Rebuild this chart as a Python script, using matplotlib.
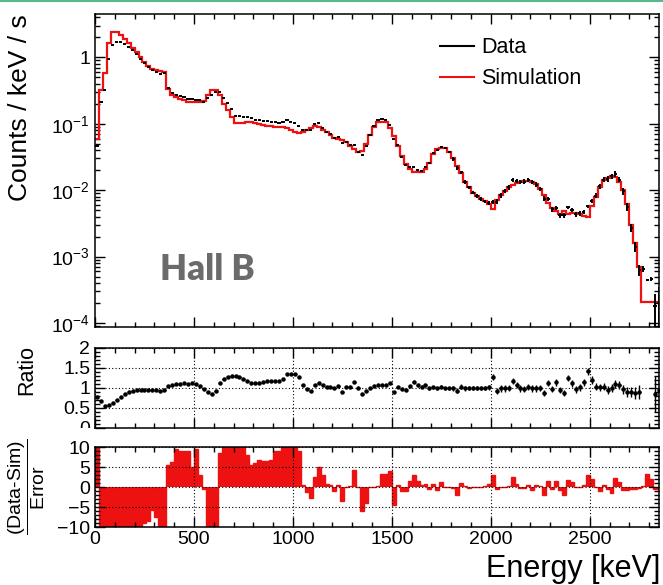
import numpy as np
import matplotlib
matplotlib.use("Agg")
import matplotlib.pyplot as plt
from matplotlib.ticker import MultipleLocator, LogLocator, FuncFormatter, NullFormatter
from matplotlib.lines import Line2D
from matplotlib.patches import Rectangle

plt.rcParams['font.family'] = ['Liberation Sans', 'DejaVu Sans']
plt.rcParams['mathtext.fontset'] = 'custom'
plt.rcParams['mathtext.rm'] = 'Liberation Sans'
plt.rcParams['mathtext.it'] = 'Liberation Sans:italic'
plt.rcParams['mathtext.bf'] = 'Liberation Sans:bold'

# 20 keV bins from 0 to 2860 keV
bin_width = 20
energy_max = 2850

# simulated rate per bin (counts / keV / s)
sim_rate = [
    0.06, 0.32, 0.58, 1.65, 2.45, 2.4, 2.2, 1.9, 1.62, 1.4,
    1.2, 1.0, 0.86, 0.75, 0.67, 0.64, 0.62, 0.6, 0.33, 0.27,
    0.25, 0.235, 0.225, 0.215, 0.21, 0.21, 0.215, 0.22, 0.27, 0.32,
    0.32, 0.27, 0.2, 0.16, 0.128, 0.102, 0.102, 0.104, 0.107, 0.107,
    0.103, 0.1, 0.096, 0.093, 0.092, 0.09, 0.088, 0.088, 0.086, 0.08,
    0.076, 0.072, 0.076, 0.082, 0.087, 0.093, 0.09, 0.082, 0.074, 0.068,
    0.062, 0.06, 0.057, 0.053, 0.047, 0.042, 0.038, 0.039, 0.05, 0.068,
    0.09, 0.105, 0.108, 0.105, 0.085, 0.065, 0.047, 0.033, 0.025, 0.021,
    0.019, 0.019, 0.019, 0.021, 0.026, 0.035, 0.041, 0.043, 0.043, 0.038,
    0.03, 0.023, 0.018, 0.0135, 0.011, 0.0092, 0.0082, 0.0074, 0.0068, 0.0063,
    0.0052, 0.0072, 0.0085, 0.0098, 0.011, 0.012, 0.0128, 0.0135, 0.0138, 0.0138,
    0.0135, 0.0122, 0.0105, 0.0085, 0.0065, 0.0053, 0.0048, 0.0044, 0.0048, 0.0044,
    0.0045, 0.0045, 0.0044, 0.0041, 0.004, 0.0058, 0.008, 0.0112, 0.014, 0.0155,
    0.0163, 0.016, 0.0135, 0.01, 0.0063, 0.003, 0.0016, 0.0007, 0.00021, 0.00021,
    0.00021, 0.00021, 0.00021,
]

# data / simulation per bin
ratio = [
    0.78, 0.67, 0.55, 0.57, 0.63, 0.70, 0.78, 0.85, 0.90, 0.93,
    0.94, 0.95, 0.95, 0.95, 0.96, 0.95, 0.92, 0.96, 1.05, 1.08,
    1.10, 1.10, 1.12, 1.10, 1.12, 1.10, 1.05, 0.98, 0.91, 0.85,
    0.93, 1.12, 1.22, 1.27, 1.30, 1.30, 1.27, 1.22, 1.17, 1.13,
    1.12, 1.13, 1.16, 1.18, 1.17, 1.17, 1.18, 1.22, 1.34, 1.34,
    1.34, 1.27, 1.07, 0.97, 0.93, 1.07, 1.13, 1.07, 1.03, 1.02,
    0.99, 1.04, 0.90, 1.02, 1.02, 1.14, 0.99, 0.86, 0.92, 0.99,
    1.04, 1.07, 1.08, 1.08, 1.12, 0.90, 1.02, 0.97, 0.96, 1.05,
    1.16, 1.07, 1.03, 1.07, 0.99, 1.02, 0.99, 1.03, 0.99, 0.99,
    0.99, 0.93, 1.03, 0.99, 1.00, 1.00, 1.00, 1.00, 1.00, 1.02,
    1.27, 0.93, 0.99, 0.99, 1.00, 1.18, 1.07, 0.99, 0.97, 1.03,
    0.99, 0.99, 1.00, 0.88, 1.12, 0.97, 1.14, 0.95, 0.87, 1.25,
    1.12, 0.97, 1.02, 1.14, 1.42, 1.20, 1.03, 1.02, 1.03, 0.95,
    0.99, 1.10, 1.07, 0.97, 0.90, 0.90, 0.88, 0.90, 3.10, 2.10,
    2.20, 0.85, 0.95,
]

# uncertainty on the ratio
ratio_err = [
    0.008, 0.008, 0.008, 0.008, 0.008, 0.008, 0.008, 0.008, 0.008, 0.008,
    0.008, 0.008, 0.008, 0.008, 0.008, 0.008, 0.008, 0.008, 0.008, 0.008,
    0.008, 0.008, 0.008, 0.008, 0.008, 0.008, 0.008, 0.008, 0.008, 0.008,
    0.008, 0.008, 0.008, 0.008, 0.008, 0.008, 0.008, 0.008, 0.008, 0.008,
    0.015, 0.015, 0.015, 0.015, 0.015, 0.015, 0.015, 0.015, 0.015, 0.015,
    0.015, 0.015, 0.015, 0.015, 0.015, 0.015, 0.015, 0.015, 0.015, 0.015,
    0.025, 0.025, 0.025, 0.025, 0.025, 0.025, 0.025, 0.025, 0.025, 0.025,
    0.025, 0.025, 0.025, 0.025, 0.025, 0.025, 0.025, 0.025, 0.025, 0.025,
    0.035, 0.035, 0.035, 0.035, 0.035, 0.035, 0.035, 0.035, 0.035, 0.035,
    0.06, 0.06, 0.06, 0.06, 0.06, 0.06, 0.06, 0.06, 0.06, 0.06,
    0.08, 0.08, 0.08, 0.08, 0.08, 0.08, 0.08, 0.08, 0.08, 0.08,
    0.08, 0.08, 0.08, 0.08, 0.08, 0.08, 0.08, 0.08, 0.08, 0.08,
    0.09, 0.09, 0.09, 0.09, 0.09, 0.09, 0.09, 0.09, 0.09, 0.09,
    0.10, 0.10, 0.10, 0.11, 0.12, 0.13, 0.15, 0.18, 0.30, 0.08,
    0.15, 0.45, 0.70,
]

# (data - sim) / error per bin, axis range is +-10
pull = [
    10, -10, -10, -10, -10, -10, -10, -10, -10, -10,
    -10, -10, -9, -8.5, -5.8, -7.5, -10, -10, 5.5, 6.3,
    9.6, 9.1, 8.9, 8.9, 5.1, 9.4, 3.0, -0.5, -10, -10,
    -10, 8.5, 10, 10, 10, 10, 10, 10, 8.0, 5.4,
    6.0, 6.8, 6.5, 6.5, 6.8, 8.9, 9.0, 10, 10, 10,
    10, 9.0, 0.5, -1.3, -2.8, 2.6, 5.1, 3.0, 0.8, 0.5,
    -1.0, 0.5, -3.5, 0.0, 0.3, 4.2, 0.0, -6.0, -4.1, 0.0,
    0.0, 0.3, 3.2, 3.2, 4.0, -4.4, 0.5, -1.0, -1.0, 1.4,
    3.0, 1.4, 0.5, 0.8, -0.5, 0.8, -0.8, 1.2, 0.0, 0.0,
    -0.3, -1.9, 1.0, 0.2, -0.2, 0.1, 0.0, -0.1, 0.3, 0.7,
    2.9, -0.5, 0.0, 0.0, 0.3, 2.6, 0.8, -0.3, -0.3, 0.5,
    -0.8, 0.5, 0.2, -1.9, 1.5, -0.5, 1.5, -0.8, -1.9, 1.7,
    1.2, 0.0, 0.0, 0.5, 3.0, 2.0, 0.0, -1.0, 0.5, -0.5,
    -1.4, 2.2, 1.2, -0.8, -0.8, -0.5, -0.5, -0.3, 0.2, 3.2,
    2.0, -0.5, -0.5,
]

edges = np.arange(len(sim_rate) + 1) * bin_width
centers = edges[:-1] + bin_width / 2
sim = np.array(sim_rate)
r = np.array(ratio)
r_err = np.array(ratio_err)
data = sim * r
data_err = data * r_err / r

W, H = 663, 585
fig = plt.figure(figsize=(W / 100, H / 100), dpi=100)


def frac_box(x0, y0, x1, y1):
    return [x0 / W, 1 - y1 / H, (x1 - x0) / W, (y1 - y0) / H]


ax1 = fig.add_axes(frac_box(95, 14, 659, 327))
ax2 = fig.add_axes(frac_box(95, 348, 659, 428))
ax3 = fig.add_axes(frac_box(95, 447, 659, 527))

for ax in (ax1, ax2, ax3):
    ax.set_xlim(0, energy_max)
    ax.xaxis.set_major_locator(MultipleLocator(500))
    ax.xaxis.set_minor_locator(MultipleLocator(100))
    ax.tick_params(which='both', direction='in', top=True, right=True,
                   labelsize=14, width=1, colors='black')
    ax.tick_params(which='major', length=7)
    ax.tick_params(which='minor', length=3.5)
    for s in ax.spines.values():
        s.set_linewidth(1.1)

# spectrum
ax1.stairs(sim, edges, color='#ee1111', lw=1.6, baseline=None, zorder=2)
ax1.errorbar(centers, data, xerr=8, yerr=data_err, fmt='none',
             ecolor='black', elinewidth=1.4, zorder=3)
ax1.set_yscale('log')
ax1.set_ylim(8.7e-5, 4.5)
ax1.yaxis.set_major_locator(LogLocator(base=10, numticks=10))
ax1.yaxis.set_minor_locator(LogLocator(base=10, subs=np.arange(2, 10), numticks=20))
ax1.yaxis.set_minor_formatter(NullFormatter())


def log_label(v, pos):
    e = int(round(np.log10(v)))
    return '1' if e == 0 else r'$10^{%d}$' % e


ax1.yaxis.set_major_formatter(FuncFormatter(log_label))
ax1.tick_params(axis='x', labelbottom=False)
ax1.set_ylabel('Counts / keV / s', fontsize=19, loc='top')
ax1.yaxis.set_label_coords(-0.112, 1.0)

handles = [Line2D([], [], color='black', lw=1.5), Line2D([], [], color='#ee1111', lw=1.5)]
ax1.legend(handles, ['Data', 'Simulation'], loc='upper left',
           bbox_to_anchor=(0.612, 0.925), frameon=False, fontsize=15.5,
           handlelength=1.55, handletextpad=0.35, labelspacing=0.45,
           borderpad=0, borderaxespad=0)
ax1.text(0.199, 0.185, 'Hall B', transform=ax1.transAxes, ha='center', va='center',
         fontsize=25, fontweight='heavy', color='#6b6b6b', family=['Lato', 'DejaVu Sans'])

grid_style = dict(color='black', lw=0.8, ls=(0, (1, 2)))

# ratio panel
ax2.errorbar(centers, r, xerr=7, yerr=r_err, fmt='o', ms=2.2, color='black',
             ecolor='black', elinewidth=1.0, capsize=0, zorder=3)
ax2.set_ylim(0, 2)
ax2.yaxis.set_major_locator(MultipleLocator(0.5))
ax2.yaxis.set_minor_locator(MultipleLocator(0.1))
ax2.yaxis.set_major_formatter(FuncFormatter(lambda v, p: '%g' % v))
ax2.tick_params(axis='x', labelbottom=False)
ax2.grid(which='major', **grid_style)
ax2.set_axisbelow(False)
ax2.set_ylabel('Ratio', fontsize=15.5)
ax2.yaxis.set_label_coords(-0.103, 0.72)

# pull panel
ax3.stairs(pull, edges, fill=True, color='#ee1111', baseline=0, zorder=2)
ax3.stairs(pull, edges, color='#ee1111', lw=1.0, baseline=0, zorder=2)
ax3.set_ylim(-10, 10)
ax3.yaxis.set_major_locator(MultipleLocator(5))
ax3.yaxis.set_minor_locator(MultipleLocator(1))
ax3.grid(which='major', **grid_style)
ax3.set_axisbelow(False)
ax3.tick_params(axis='x', pad=3)
ax3.set_ylabel(r'$\dfrac{\text{(Data-Sim)}}{\text{Error}}$', fontsize=14)
ax3.yaxis.set_label_coords(-0.085, 0.5)

fig.text(660 / W, 1 - 569 / H, 'Energy [keV]', ha='right', va='center', fontsize=22)

# lower pad covers the bottom of the ratio labels
fig.add_artist(Rectangle((0, 1 - 439 / H), 94 / W, 11 / H, transform=fig.transFigure,
                         facecolor='white', edgecolor='none', zorder=5))
fig.add_artist(Line2D([0, 1], [1 - 1 / H, 1 - 1 / H], transform=fig.transFigure,
                      color='#5cb88a', lw=1.5))

fig.savefig('out.png', dpi=100)
